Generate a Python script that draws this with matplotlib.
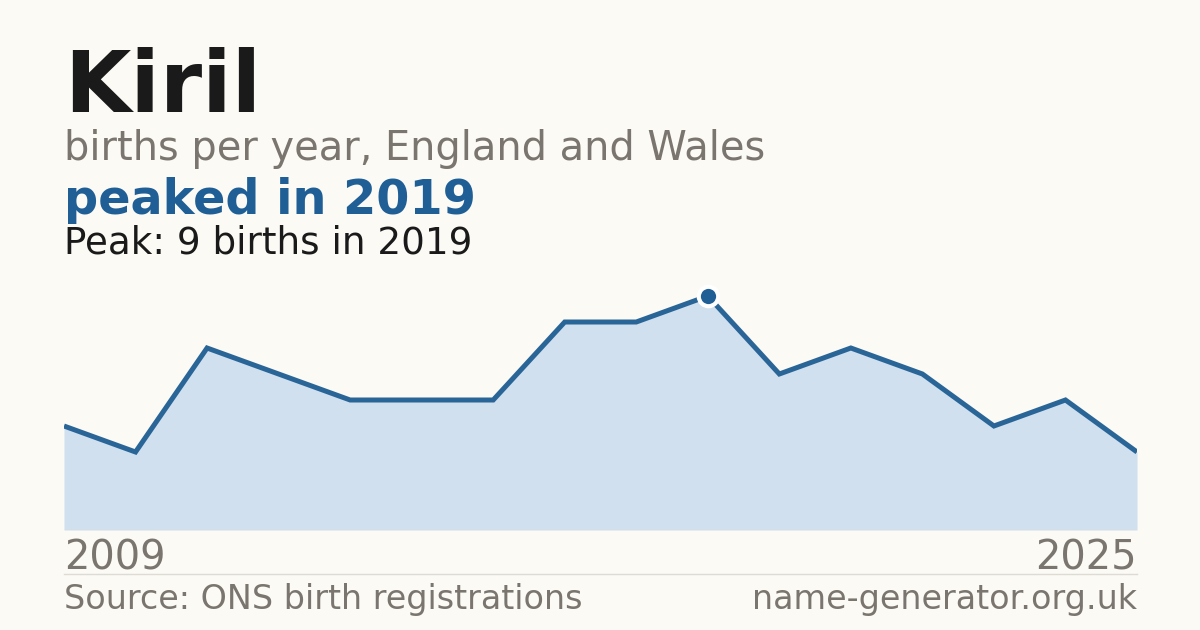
import matplotlib
matplotlib.use("Agg")
import matplotlib.pyplot as plt

years = [2009, 2010, 2011, 2012, 2013, 2014, 2015, 2016, 2017, 2019, 2020, 2021, 2022, 2023, 2024, 2025]
births = [4, 3, 7, 6, 5, 5, 5, 8, 8, 9, 6, 7, 6, 4, 5, 3]
name = "Kiril"
subtitle = "births per year, England and Wales"
headline = "peaked in 2019"
peak_text = "Peak: 9 births in 2019"
source_text = "Source: ONS birth registrations"
site_text = "name-generator.org.uk"

BG = "#fbfaf5"
BLUE = "#1f5f96"
LINE = "#2a6598"
FILL = "#d0e0ef"
GREY = "#7a756e"
DARK = "#1a1a1a"

W, H = 1200, 630
fig = plt.figure(figsize=(W / 100, H / 100), dpi=100, facecolor=BG)

def fx(px):
    return px / W

def fy(py):
    return 1 - py / H

left, right = 64, 1137
top, bottom = 270, 530
ax = fig.add_axes([fx(left), fy(bottom), fx(right - left), (bottom - top) / H])
ax.set_facecolor(BG)
idx = list(range(len(births)))
ax.fill_between(idx, births, 0, color=FILL, linewidth=0)
ax.plot(idx, births, color=LINE, linewidth=3.6, solid_joinstyle="miter", solid_capstyle="butt")
pk = births.index(max(births))
ax.plot([idx[pk]], [births[pk]], marker="o", markersize=14, markerfacecolor=BLUE,
        markeredgecolor="white", markeredgewidth=3, zorder=5)
ax.axhline(0, color="#dedbd4", linewidth=1)
ax.set_xlim(0, len(births) - 1)
ax.set_ylim(0, 10)
ax.axis("off")

fig.text(fx(64), fy(112), name, fontsize=61.7, fontweight="bold", color=DARK,
         family="DejaVu Sans", va="baseline", ha="left")
fig.text(fx(64), fy(160), subtitle, fontsize=28.7, color=GREY,
         family="DejaVu Sans", va="baseline", ha="left")
fig.text(fx(64), fy(214), headline, fontsize=34.4, fontweight="bold", color=BLUE,
         family="DejaVu Sans", va="baseline", ha="left")
fig.text(fx(64), fy(253), peak_text, fontsize=26.8, color=DARK,
         family="DejaVu Sans", va="baseline", ha="left")

fig.text(fx(64), fy(569), str(years[0]), fontsize=28.8, color=GREY,
         family="DejaVu Sans", va="baseline", ha="left")
fig.text(fx(1137), fy(569), str(years[-1]), fontsize=28.8, color=GREY,
         family="DejaVu Sans", va="baseline", ha="right")

fig.add_artist(plt.Line2D([fx(64), fx(1137)], [fy(574), fy(574)], color="#dedbd4", linewidth=1))

fig.text(fx(64), fy(609), source_text, fontsize=24, color=GREY,
         family="DejaVu Sans", va="baseline", ha="left")
fig.text(fx(1137), fy(609), site_text, fontsize=24, color=GREY,
         family="DejaVu Sans", va="baseline", ha="right")

fig.savefig("out.png", dpi=100, facecolor=BG)
